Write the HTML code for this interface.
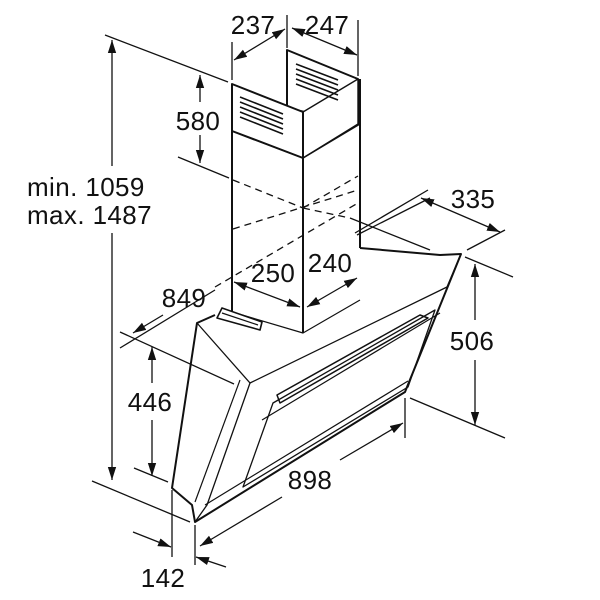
<!DOCTYPE html>
<html><head><style>
html,body{margin:0;padding:0;background:#fff}
svg{display:block}
text{font-family:"Liberation Sans",sans-serif;font-size:26px;fill:#111;letter-spacing:0.4px}
</style></head><body>
<svg width="600" height="600" viewBox="0 0 600 600" xmlns="http://www.w3.org/2000/svg">
<defs>
<marker id="a" viewBox="0 0 10 10" refX="10" refY="5" markerWidth="13" markerHeight="13" orient="auto-start-reverse" markerUnits="userSpaceOnUse"><path d="M0,1.8 L10,5 L0,8.2 Z" fill="#111"/></marker>
</defs>
<g stroke="#111" fill="none" stroke-width="1.3">
<line x1="105" y1="35" x2="228" y2="82"/>
<line x1="178" y1="157" x2="229" y2="178"/>
<line x1="232" y1="42" x2="232" y2="80"/>
<line x1="287" y1="15" x2="287" y2="48"/>
<line x1="358" y1="20" x2="358" y2="76"/>
<line x1="355" y1="233" x2="428" y2="190"/>
<line x1="467" y1="250" x2="505" y2="230"/>
<line x1="465" y1="257" x2="513" y2="277"/>
<line x1="410" y1="398" x2="505" y2="438"/>
<line x1="120" y1="332" x2="234" y2="384"/>
<line x1="134" y1="468" x2="168" y2="482"/>
<line x1="92" y1="481" x2="190" y2="522"/>
<line x1="172" y1="490" x2="172" y2="557"/>
<line x1="195" y1="525" x2="195" y2="565"/>
<line x1="405" y1="398" x2="405" y2="438"/>
<line x1="350" y1="218" x2="430" y2="250"/>
<line x1="120" y1="348" x2="215" y2="290"/>
<line x1="357" y1="235" x2="430" y2="198"/>
<g stroke-dasharray="7,5">
<line x1="233" y1="180" x2="303" y2="208"/>
<line x1="303" y1="208" x2="358" y2="176"/>
<line x1="215" y1="287" x2="358" y2="203"/>
<line x1="303" y1="208" x2="350" y2="218"/>
<line x1="233" y1="229" x2="358" y2="190"/>
</g>
<line x1="112" y1="40" x2="112" y2="166" marker-start="url(#a)"/>
<line x1="112" y1="233" x2="112" y2="480" marker-end="url(#a)"/>
<line x1="200" y1="75" x2="200" y2="102" marker-start="url(#a)"/>
<line x1="200" y1="135" x2="200" y2="163" marker-end="url(#a)"/>
<line x1="234" y1="60" x2="285" y2="29" marker-start="url(#a)" marker-end="url(#a)"/>
<line x1="292" y1="28" x2="357" y2="55" marker-start="url(#a)" marker-end="url(#a)"/>
<line x1="421" y1="198" x2="500" y2="232" marker-start="url(#a)" marker-end="url(#a)"/>
<line x1="475" y1="264" x2="475" y2="320" marker-start="url(#a)"/>
<line x1="475" y1="360" x2="475" y2="425" marker-end="url(#a)"/>
<line x1="234" y1="282" x2="300" y2="307" marker-start="url(#a)" marker-end="url(#a)"/>
<line x1="307" y1="307" x2="357" y2="278" marker-start="url(#a)" marker-end="url(#a)"/>
<line x1="163" y1="315" x2="133" y2="333" marker-end="url(#a)"/>
<line x1="152" y1="347" x2="152" y2="383" marker-start="url(#a)"/>
<line x1="152" y1="420" x2="152" y2="476" marker-end="url(#a)"/>
<line x1="282" y1="497" x2="200" y2="546" marker-end="url(#a)"/>
<line x1="340" y1="460" x2="403" y2="423" marker-end="url(#a)"/>
<line x1="133" y1="532" x2="171" y2="547" marker-end="url(#a)"/>
<line x1="226" y1="567" x2="196" y2="557" marker-end="url(#a)"/>
</g>
<g stroke="#111" fill="#fff" stroke-width="2" stroke-linejoin="round">
<polygon points="287,50 358,79 358,124 287,108" />
<polygon points="232,84 303,112 303,158 232,131"/>
<polygon points="303,112 358,79 358,124 303,158" stroke-width="1.4"/>
<path d="M232,131 L303,158 L360,124" fill="none" stroke-width="1.4"/>
<path d="M232,84 L232,312 M303,112 L303,333 M360,79 L360,248" fill="none"/>
<path d="M232,312 L303,333 L360,300" fill="none" stroke-width="1.2"/>
</g>
<g stroke="#111" stroke-width="1.6">
<line x1="240" y1="97" x2="283" y2="114"/><line x1="240" y1="102" x2="283" y2="119"/><line x1="240" y1="107" x2="283" y2="124"/><line x1="240" y1="112" x2="283" y2="129"/><line x1="240" y1="117" x2="283" y2="134"/>
<line x1="296" y1="64" x2="338" y2="80"/><line x1="296" y1="69" x2="338" y2="85"/><line x1="296" y1="74" x2="338" y2="90"/><line x1="296" y1="79" x2="338" y2="95"/><line x1="296" y1="84" x2="338" y2="100"/>
</g>
<g stroke="#111" fill="none" stroke-width="2" stroke-linejoin="round">
<path d="M360,248 L440,255 L461,254 L405,392 L195,522 L192,505 L172,488 L197,323 L215,315"/>
<path d="M197,323 L250,383 L447,287 L461,254" stroke-width="1.3"/>
<path d="M250,383 L207,505 L195,522" stroke-width="1.3"/>
<path d="M240,380 L195,502" stroke-width="1.2"/>
<path d="M273,403 L435,310 L408,387 L243,487 Z" stroke-width="1.3"/>
<path d="M277,395 L420,315 L428,318 L280,403 Z" stroke-width="1.5"/>
<path d="M205,505 L408,381" stroke-width="1.2"/>
<path d="M262,420 L440,313" stroke-width="1.2"/>
<path d="M217,318 L222,308 L262,322 L260,330 Z" stroke-width="1.6" fill="#fff"/>
<path d="M222,313 L258,325" stroke-width="1.2"/>
</g>
<text x="253" y="34" text-anchor="middle">237</text>
<text x="327" y="34" text-anchor="middle">247</text>
<text x="198" y="130" text-anchor="middle">580</text>
<text x="27" y="196">min. 1059</text>
<text x="27" y="224">max. 1487</text>
<text x="473" y="208" text-anchor="middle">335</text>
<text x="273" y="282" text-anchor="middle">250</text>
<text x="330" y="272" text-anchor="middle">240</text>
<text x="184" y="307" text-anchor="middle">849</text>
<text x="472" y="350" text-anchor="middle">506</text>
<text x="150" y="411" text-anchor="middle">446</text>
<text x="310" y="489" text-anchor="middle">898</text>
<text x="163" y="587" text-anchor="middle">142</text>
</svg>
</body></html>
